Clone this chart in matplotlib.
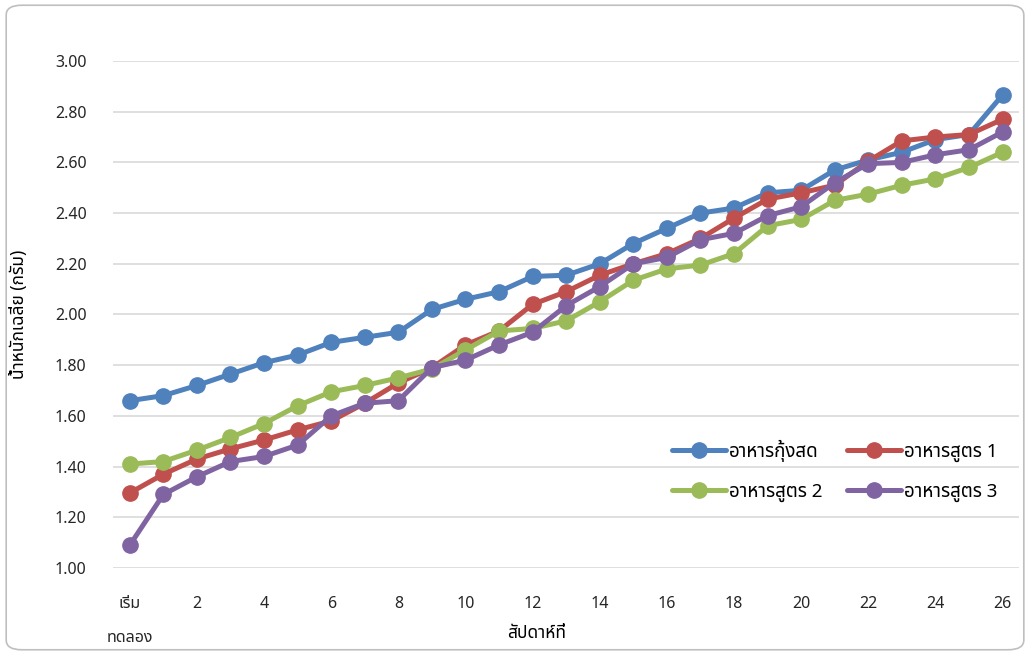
import matplotlib
matplotlib.use('Agg')
import matplotlib.pyplot as plt
from matplotlib.patches import FancyBboxPatch
import numpy as np

# weeks 0 (start) .. 26
weeks = list(range(27))
tick_labels = ['เริ่ม\nทดลอง', '2', '4', '6', '8', '10', '12', '14', '16', '18', '20', '22', '24', '26']

fresh_shrimp = [1.66, 1.68, 1.72, 1.765, 1.81, 1.84, 1.89, 1.91, 1.93, 2.02, 2.06, 2.09, 2.15, 2.155,
                2.20, 2.28, 2.34, 2.40, 2.42, 2.48, 2.49, 2.57, 2.61, 2.64, 2.69, 2.71, 2.866]
formula1 = [1.296, 1.37, 1.43, 1.47, 1.505, 1.545, 1.58, 1.65, 1.73, 1.79, 1.88, 1.935, 2.04, 2.09,
            2.155, 2.20, 2.24, 2.30, 2.38, 2.455, 2.48, 2.51, 2.605, 2.685, 2.70, 2.71, 2.77]
formula2 = [1.41, 1.42, 1.465, 1.515, 1.57, 1.64, 1.695, 1.72, 1.75, 1.785, 1.86, 1.935, 1.945, 1.975,
            2.05, 2.135, 2.18, 2.195, 2.24, 2.35, 2.375, 2.45, 2.475, 2.51, 2.535, 2.58, 2.64]
formula3 = [1.09, 1.29, 1.36, 1.42, 1.44, 1.485, 1.60, 1.65, 1.66, 1.79, 1.82, 1.88, 1.93, 2.035,
            2.11, 2.20, 2.225, 2.295, 2.32, 2.39, 2.425, 2.52, 2.595, 2.60, 2.63, 2.65, 2.72]

names = ['อาหารกุ้งสด', 'อาหารสูตร 1', 'อาหารสูตร 2', 'อาหารสูตร 3']
colors = ['#4F81BD', '#C0504D', '#9BBB59', '#8064A2']

plt.rcParams['font.family'] = ['Noto Sans Thai', 'Tahoma', 'Loma', 'Garuda', 'Noto Sans', 'DejaVu Sans']

fig = plt.figure(figsize=(10.3, 6.55), dpi=100)
ax = fig.add_axes([0.1097, 0.1328, 0.880, 0.7741])

# rounded border round the chart
fig.patches.append(FancyBboxPatch((0.006, 0.008), 0.988, 0.984, boxstyle='round,pad=0,rounding_size=0.015',
                                  transform=fig.transFigure, fill=False, edgecolor='#BFBFBF', lw=1.2))

lines = []
for ys, c, n in zip([fresh_shrimp, formula1, formula2, formula3], colors, names):
    ln, = ax.plot(weeks, ys, color=c, lw=3.6, marker='o', ms=11, label=n, solid_capstyle='round')
    lines.append(ln)

ax.set_xlim(-0.5, 26.5)
ax.set_ylim(1.0, 3.0)
ax.set_yticks(np.arange(1.0, 3.01, 0.2))
ax.set_yticklabels(['%.2f' % v for v in np.arange(1.0, 3.01, 0.2)], fontsize=11.5, fontweight='bold', color='#262626')
ax.set_xticks([0] + list(range(2, 27, 2)))
ax.set_xticklabels(tick_labels, fontsize=11.5, fontweight='bold', color='#262626', linespacing=2.5, va='top')
ax.tick_params(axis='x', length=0, pad=20)
ax.tick_params(axis='y', length=0, pad=19)
ax.grid(axis='y', color='#D9D9D9', lw=1.2)
ax.set_axisbelow(True)
for s in ax.spines.values():
    s.set_visible(False)

fig.text(0.521, 0.033, 'สัปดาห์ที่', ha='center', va='center', fontsize=12.5, fontweight='bold')
fig.text(0.018, 0.52, 'น้ำหนักเฉลี่ย (กรัม)', ha='center', va='center', rotation=90, fontsize=12.5, fontweight='bold')

# legend filled row by row like the original
order = [0, 2, 1, 3]
ax.legend([lines[i] for i in order], [names[i] for i in order], loc='upper left',
          bbox_to_anchor=(0.598, 0.286), ncol=2, frameon=False, fontsize=13.5,
          handlelength=2.9, columnspacing=1.3, labelspacing=1.1, handletextpad=0.15)

fig.savefig('out.png', dpi=100)
